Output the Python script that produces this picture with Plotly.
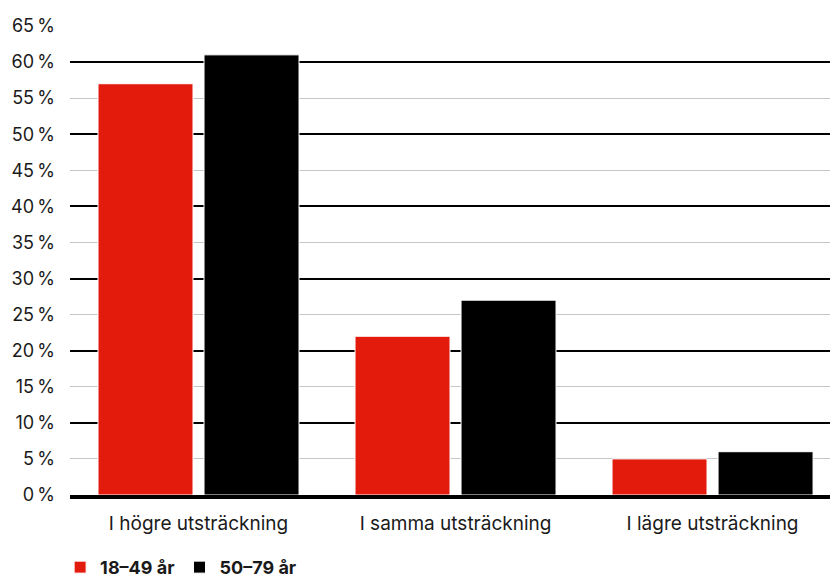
import plotly.graph_objects as go

categories = ["I högre utsträckning", "I samma utsträckning", "I lägre utsträckning"]
young = [57, 22, 5]
old = [61, 27, 6]
series_names = ["18–49 år", "50–79 år"]
tick_vals = list(range(0, 70, 5))
tick_text = [f"{v}\u2009%" for v in tick_vals]

FONT = "Inter, Roboto, sans-serif"

fig = go.Figure()
fig.add_trace(go.Bar(x=categories, y=young, name=series_names[0],
                     marker=dict(color="#e21b0c", line=dict(color="white", width=1))))
fig.add_trace(go.Bar(x=categories, y=old, name=series_names[1],
                     marker=dict(color="#000000", line=dict(color="white", width=1))))

# invisible helper trace on the overlay axis so the black 10 % grid shows
fig.add_trace(go.Scatter(x=categories, y=[None] * 3, yaxis="y2", showlegend=False,
                         hoverinfo="skip"))

fig.update_layout(
    width=830, height=585,
    margin=dict(l=70, r=0, t=26, b=90, autoexpand=False),
    plot_bgcolor="white", paper_bgcolor="white",
    font=dict(family=FONT, size=18, color="#1a1a1a"),
    barmode="group", bargap=0.175, bargroupgap=0.104,
    xaxis=dict(range=[-0.5, 2.457], showgrid=False, ticks="", automargin=False,
               showline=True, linecolor="black", linewidth=4,
               tickfont=dict(size=19), ticklabelstandoff=8),
    yaxis=dict(range=[0, 65], tickvals=tick_vals, ticktext=tick_text, automargin=False,
               showgrid=True, gridcolor="#c8c8c8", gridwidth=1,
               zeroline=False, ticks="", ticklabelstandoff=14),
    yaxis2=dict(range=[0, 65], overlaying="y", dtick=10, showticklabels=False,
                automargin=False, showgrid=True, gridcolor="black", gridwidth=2,
                zeroline=False),
    legend=dict(orientation="h", x=-0.013, xanchor="left", y=-0.115, yanchor="top",
                font=dict(size=18, family=FONT, weight="bold"),
                itemwidth=30, traceorder="normal"),
)

# drop the default page margin so the figure sits at the window's corner
fig.write_html("out.html", config={"displayModeBar": False},
               post_script="document.body.style.margin='0';")
